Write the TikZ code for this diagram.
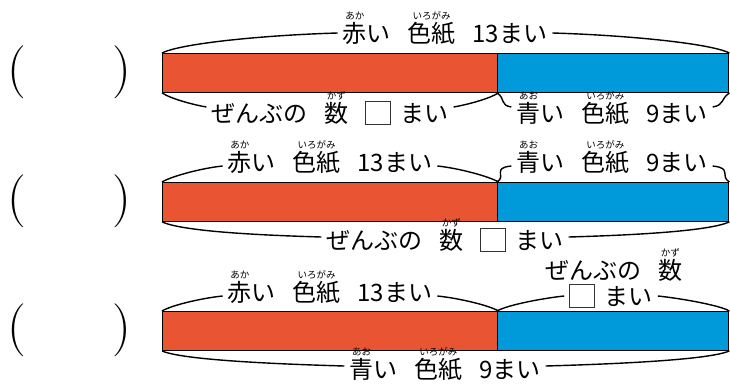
\documentclass[tikz,border=0pt]{standalone}
\usepackage{fontspec}
\setmainfont{Noto Sans CJK JP}
\usetikzlibrary{positioning}

\definecolor{akairo}{HTML}{E95532}
\definecolor{aoiro}{HTML}{0099DA}

% furigana over a word
\newcommand\rb[2]{\leavevmode\hbox{\setbox0\hbox{#1}%
  \rlap{\makebox[\wd0][c]{\raisebox{0.92em}[0pt][0pt]{\fontsize{9.5}{9.5}\selectfont #2}}}\box0}}
\newcommand\waku{\raisebox{-0.1em}{\color{black!80}\fboxsep=0pt\fboxrule=0.8pt\fbox{\rule{0pt}{0.95em}\hspace{1.0em}}}}
\newcommand\aki{\hspace{0.7em}}
\newcommand\iro{\rb{色紙}{い\hfil ろ\hfil が\hfil み}}

% braces: left corner, right corner, text, first handle (x,y), second handle, shift
\newcommand\upbrace[7]{%
  \draw[brc] (#1) .. controls +(#4,-#5) and +(-#6,2) .. ([yshift=#7]#3.west);
  \draw[brc] (#2) .. controls +(-#4,-#5) and +(#6,2) .. ([yshift=#7]#3.east);}
\newcommand\downbrace[7]{%
  \draw[brc] (#1) .. controls +(#4,#5) and +(-#6,-2) .. ([yshift=#7]#3.west);
  \draw[brc] (#2) .. controls +(-#4,#5) and +(#6,-2) .. ([yshift=#7]#3.east);}

\begin{document}
\begin{tikzpicture}[x=1pt,y=-1pt,
  bun/.style={inner xsep=5pt, inner ysep=0pt, text height=21pt, text depth=3pt,
    font=\fontsize{24}{24}\selectfont},
  brc/.style={line width=1.4pt},
  obi/.style={draw, line width=1.4pt, anchor=north west, minimum height=38.5pt, inner sep=0pt},
  kakko/.style={inner sep=0pt, font=\fontencoding{TU}\fontfamily{lmr}\fontsize{53}{53}\selectfont}
  ]
  \useasboundingbox (0,0) rectangle (730,386);

  \foreach \r/\y in {1/53,2/182,3/311}{
    \node[obi, fill=akairo, minimum width=335pt] (red\r) at (162,\y) {};
    \node[obi, fill=aoiro, minimum width=231pt] (blue\r) at (497,\y) {};
    \node[kakko] (lp\r) at (17,{\y+19}) {(};
    \node[kakko] (rp\r) at (122,{\y+19}) {)};
  }

  % row 1
  \node[bun] (t1a) at (445,33) {\rb{赤}{あか}い\aki\iro\aki 13まい};
  \node[bun] (t1b) at (330,113) {ぜんぶの\aki\rb{数}{かず}\aki\waku\hspace{0.4em}まい};
  \node[bun] (t1c) at (612,113) {\rb{青}{あお}い\aki\iro\aki 9まい};
  % row 2
  \node[bun] (t2a) at (330,162) {\rb{赤}{あか}い\aki\iro\aki 13まい};
  \node[bun] (t2b) at (612,162) {\rb{青}{あお}い\aki\iro\aki 9まい};
  \node[bun] (t2c) at (445,240) {ぜんぶの\aki\rb{数}{かず}\aki\waku\hspace{0.4em}まい};
  % row 3
  \node[bun] (t3a) at (330,292) {\rb{赤}{あか}い\aki\iro\aki 13まい};
  \node[bun] (t3b) at (614,270) {ぜんぶの\aki\rb{数}{かず}};
  \node[bun] (t3c) at (611,296) {\waku\hspace{0.4em}まい};
  \node[bun] (t3d) at (445,369) {\rb{青}{あお}い\aki\iro\aki 9まい};

  \upbrace{red1.north west}{blue1.north east}{t1a}{20}{10}{70}{0pt}
  \downbrace{red1.south west}{red1.south east}{t1b}{9}{6}{12}{6pt}
  \downbrace{blue1.south west}{blue1.south east}{t1c}{9}{6}{12}{6pt}

  \upbrace{red2.north west}{red2.north east}{t2a}{10}{6}{20}{-4pt}
  \upbrace{blue2.north west}{blue2.north east}{t2b}{10}{6}{20}{-4pt}
  \downbrace{red2.south west}{blue2.south east}{t2c}{20}{9}{70}{3pt}

  \upbrace{red3.north west}{red3.north east}{t3a}{10}{6}{20}{-4pt}
  \upbrace{blue3.north west}{blue3.north east}{t3c}{10}{6}{20}{0pt}
  \downbrace{red3.south west}{blue3.south east}{t3d}{20}{9}{70}{3pt}
\end{tikzpicture}
\end{document}
